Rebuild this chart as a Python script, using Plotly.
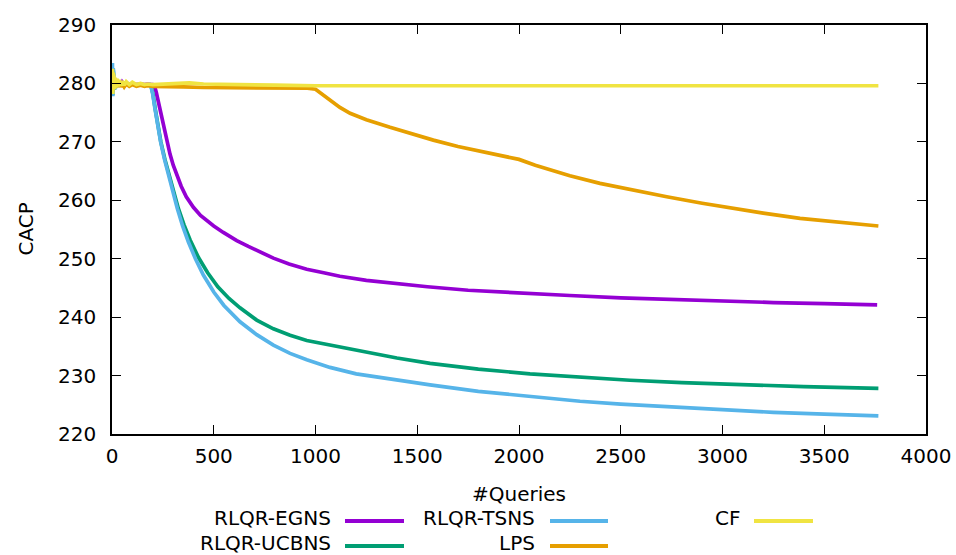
import plotly.graph_objects as go

# ---------------- data ----------------
noise_x = [0, 2, 4, 6, 8, 10, 13, 16, 20, 25, 30, 36, 43, 50, 60, 70, 85, 100, 120, 140, 160, 175]

egns_x = noise_x + [190, 200, 206, 212, 218, 225, 232, 239, 254, 269, 285, 301, 318, 340, 365, 400, 435,
                    465, 500, 547, 613, 670, 719, 793, 870, 957, 1040, 1120, 1250, 1400, 1550, 1750, 2000,
                    2250, 2500, 2750, 3000, 3250, 3500, 3760]
egns_y = [280.2, 281.6, 278.6, 281.0, 279.0, 280.8, 279.3, 280.6, 279.5, 280.4, 279.6, 280.3, 279.7, 280.2,
          279.7, 280.1, 279.8, 280.0, 279.8, 279.9, 279.8, 279.9,
          279.8, 279.8, 279.6, 279.2, 278.4, 277.3, 276.1, 275.0, 272.4, 270.1, 267.9, 266.0, 264.3,
          262.4, 260.6, 258.8, 257.4, 256.5, 255.6, 254.5, 253.1, 252.1, 251.3, 250.1, 249.1, 248.2,
          247.6, 247.0, 246.3, 245.7, 245.2, 244.6, 244.1, 243.7, 243.3, 243.0, 242.8, 242.5, 242.3,
          242.1]

ucbns_x = noise_x + [185, 193, 201, 212, 226, 240, 260, 280, 303, 326, 354, 384, 425, 470, 520, 575, 629,
                     711, 793, 875, 957, 1071, 1200, 1400, 1563, 1800, 2054, 2300, 2545, 2800, 3100,
                     3400, 3766]
ucbns_y = [279.8, 282.2, 278.0, 281.6, 278.7, 281.0, 279.1, 280.7, 279.4, 280.5, 279.5, 280.3, 279.6, 280.2,
           279.6, 280.1, 279.7, 280.0, 279.7, 279.9, 279.7, 279.8,
           279.8, 279.4, 278.2, 275.7, 272.8, 270.0, 267.0, 264.3, 261.4, 258.6, 255.8, 253.2, 250.2,
           247.6, 245.2, 243.2, 241.6, 239.5, 238.0, 236.9, 236.0, 235.2, 234.3, 233.0, 232.1, 231.1,
           230.3, 229.7, 229.2, 228.8, 228.4, 228.1, 227.8]

tsns_x = noise_x + [185, 192, 200, 211, 225, 239, 258, 277, 299, 321, 347, 375, 410, 449, 500, 550, 629,
                    711, 793, 875, 957, 1071, 1200, 1400, 1563, 1800, 2054, 2300, 2500, 2750, 3000,
                    3250, 3500, 3766]
tsns_y = [280.6, 283.5, 277.8, 282.6, 278.4, 281.6, 278.9, 280.9, 279.2, 280.6, 279.4, 280.4, 279.5, 280.2,
          279.6, 280.1, 279.7, 279.9, 279.7, 279.8, 279.7, 279.8,
          279.8, 279.4, 278.2, 275.7, 272.8, 270.0, 267.0, 264.3, 261.4, 258.6, 255.6, 252.9, 250.0,
          247.2, 244.3, 242.0, 239.2, 237.0, 235.2, 233.8, 232.7, 231.4, 230.3, 229.2, 228.4, 227.3,
          226.4, 225.6, 225.1, 224.6, 224.1, 223.7, 223.4, 223.1]

lps_x = noise_x + [200, 260, 350, 450, 550, 650, 750, 850, 960, 1000, 1040, 1080, 1120, 1170, 1250, 1366,
                   1470, 1579, 1700, 1825, 1989, 2000, 2080, 2152, 2250, 2398, 2550, 2726, 2900, 3054, 3200,
                   3381, 3550, 3766]
lps_y = [279.5, 281.2, 278.8, 280.9, 279.0, 280.6, 279.2, 280.4, 279.3, 280.2, 279.4, 280.1, 279.4, 280.0,
         279.4, 279.9, 279.5, 279.8, 279.5, 279.7, 279.5, 279.6,
         279.5, 279.4, 279.4, 279.3, 279.3, 279.3, 279.3, 279.3, 279.2, 279.0, 278.0, 276.9, 275.9, 274.9,
         273.8, 272.5, 271.4, 270.3, 269.2, 268.3, 267.2, 267.0, 266.0, 265.2, 264.2, 262.9, 261.8, 260.6,
         259.5, 258.6, 257.8, 256.9, 256.3, 255.6]

cf_x = noise_x + [200, 260, 320, 380, 450, 550, 650, 800, 1000, 1500, 2000, 2500, 3000, 3500, 3766]
cf_y = [280.0, 282.5, 278.2, 281.8, 278.8, 281.2, 279.0, 281.0, 279.3, 280.8, 279.5, 280.6, 279.6, 280.4,
        279.7, 280.3, 279.8, 280.2, 279.8, 280.0, 279.8, 279.9,
        279.8, 279.9, 280.1, 280.1, 279.9, 279.8, 279.7, 279.7, 279.6, 279.6, 279.6, 279.6, 279.6, 279.6,
        279.6]

names = ["RLQR-EGNS", "RLQR-UCBNS", "RLQR-TSNS", "LPS", "CF"]
colors = ["#9400D3", "#009E73", "#56B4E9", "#E69F00", "#F0E442"]
xs = [egns_x, ucbns_x, tsns_x, lps_x, cf_x]
ys = [egns_y, ucbns_y, tsns_y, lps_y, cf_y]

x_ticks = [0, 500, 1000, 1500, 2000, 2500, 3000, 3500, 4000]
y_ticks = [220, 230, 240, 250, 260, 270, 280, 290]

# ---------------- figure ----------------
FONT = "DejaVu Sans"
FS = 20
W, H = 956, 555
L, R, T, B = 112, 30, 25, 121
pw, ph = W - L - R, H - T - B

fig = go.Figure()
for n, c, x, y in zip(names, colors, xs, ys):
    fig.add_trace(go.Scatter(x=x, y=y, mode="lines", name=n,
                             line=dict(color=c, width=3.7), showlegend=False))

axis_common = dict(showgrid=False, zeroline=False, showline=True, linecolor="black", linewidth=1.5,
                   mirror="ticks", ticks="inside", ticklen=9, tickwidth=1.2, tickcolor="black",
                   automargin=False,
                   tickfont=dict(family=FONT, size=FS, color="black"))
fig.update_xaxes(range=[0, 4000], tickvals=x_ticks, ticktext=[str(v) for v in x_ticks],
                 ticklabelstandoff=3, **axis_common)
fig.update_yaxes(range=[220, 290], tickvals=y_ticks, ticktext=[str(v) for v in y_ticks],
                 ticklabelstandoff=10, **axis_common)

def px2paper_x(px):
    return (px - L) / pw

def py2paper_y(py):
    return (H - B - py) / ph

ann = [
    dict(text="#Queries", x=0.5, y=py2paper_y(494), xref="paper", yref="paper",
         showarrow=False, xanchor="center", yanchor="middle", font=dict(family=FONT, size=FS, color="black")),
    dict(text="CACP", x=px2paper_x(25), y=0.5, xref="paper", yref="paper", textangle=-90,
         showarrow=False, xanchor="center", yanchor="middle", font=dict(family=FONT, size=FS, color="black")),
]
shapes = []
# legend: columns fill top-to-bottom, text right-aligned, sample to the right
legend_pos = [(333, 345, 404, 518), (333, 345, 404, 543),
              (537, 550, 608, 518), (537, 550, 608, 543),
              (742, 754, 813, 518)]
for (tx, s0, s1, ty), n, c in zip(legend_pos, names, colors):
    ann.append(dict(text=n, x=px2paper_x(tx), y=py2paper_y(ty), xref="paper", yref="paper",
                    showarrow=False, xanchor="right", yanchor="middle",
                    font=dict(family=FONT, size=FS, color="black")))
    shapes.append(dict(type="line", xref="paper", yref="paper",
                       x0=px2paper_x(s0), x1=px2paper_x(s1),
                       y0=py2paper_y(ty + 3), y1=py2paper_y(ty + 3),
                       line=dict(color=c, width=4)))

fig.update_layout(width=W, height=H, margin=dict(l=L, r=R, t=T, b=B, pad=0, autoexpand=False),
                  plot_bgcolor="white", paper_bgcolor="white",
                  annotations=ann, shapes=shapes, showlegend=False,
                  font=dict(family=FONT, size=FS, color="black"))

fig.write_html("out.html", config={"displayModeBar": False},
               post_script="document.body.style.margin='0';document.body.style.padding='0';"
                           "document.body.style.overflow='hidden';")
